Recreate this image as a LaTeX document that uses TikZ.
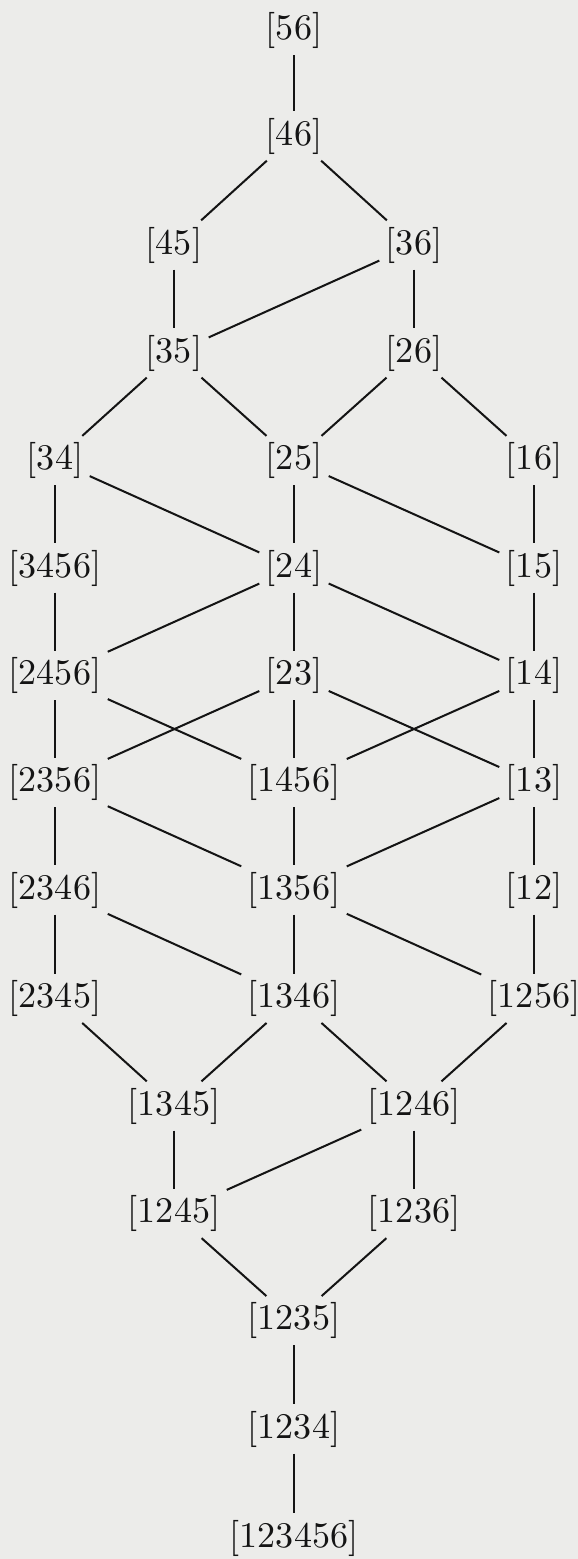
\documentclass[tikz,border=0pt]{standalone}
\definecolor{bgc}{RGB}{236,236,234}
\definecolor{ink}{RGB}{20,20,20}
\begin{document}
\begin{tikzpicture}[x=0.288pt,y=-0.288pt,
  lbl/.style={inner sep=1.9pt, outer sep=0pt, font=\fontsize{10.4}{12}\selectfont, text=ink},
  edge/.style={line width=0.58pt, draw=ink}]
\fill[bgc] (0,0) rectangle (578,1559);
\useasboundingbox (0,0) rectangle (578,1559);
% columns
\def\cA{55}\def\cB{174}\def\cC{294}\def\cD{414}\def\cE{534}
% rows
\node[lbl] (n56) at (\cC,30.5) {[56]};
\node[lbl] (n46) at (\cC,136) {[46]};
\node[lbl] (n45) at (\cB,245) {[45]};
\node[lbl] (n36) at (\cD,245) {[36]};
\node[lbl] (n35) at (\cB,353) {[35]};
\node[lbl] (n26) at (\cD,353) {[26]};
\node[lbl] (n34) at (\cA,460.5) {[34]};
\node[lbl] (n25) at (\cC,460.5) {[25]};
\node[lbl] (n16) at (\cE,460.5) {[16]};
\node[lbl] (n3456) at (\cA,568) {[3456]};
\node[lbl] (n24) at (\cC,568) {[24]};
\node[lbl] (n15) at (\cE,568) {[15]};
\node[lbl] (n2456) at (\cA,675.5) {[2456]};
\node[lbl] (n23) at (\cC,675.5) {[23]};
\node[lbl] (n14) at (\cE,675.5) {[14]};
\node[lbl] (n2356) at (\cA,782.5) {[2356]};
\node[lbl] (n1456) at (\cC,782.5) {[1456]};
\node[lbl] (n13) at (\cE,782.5) {[13]};
\node[lbl] (n2346) at (\cA,890) {[2346]};
\node[lbl] (n1356) at (\cC,890) {[1356]};
\node[lbl] (n12) at (\cE,890) {[12]};
\node[lbl] (n2345) at (\cA,998.3) {[2345]};
\node[lbl] (n1346) at (\cC,998.3) {[1346]};
\node[lbl] (n1256) at (\cE,998.3) {[1256]};
\node[lbl] (n1345) at (\cB,1106) {[1345]};
\node[lbl] (n1246) at (\cD,1106) {[1246]};
\node[lbl] (n1245) at (\cB,1213.5) {[1245]};
\node[lbl] (n1236) at (\cD,1213.5) {[1236]};
\node[lbl] (n1235) at (\cC,1320.7) {[1235]};
\node[lbl] (n1234) at (\cC,1429) {[1234]};
\node[lbl] (n123456) at (\cC,1538) {[123456]};
% edges
\foreach \a/\b in {n56/n46, n46/n45, n46/n36,
  n45/n35, n36/n35, n36/n26,
  n35/n34, n35/n25, n26/n25, n26/n16,
  n34/n3456, n34/n24, n25/n24, n25/n15, n16/n15,
  n3456/n2456, n24/n2456, n24/n23, n24/n14, n15/n14,
  n2456/n2356, n2456/n1456, n23/n2356, n23/n1456, n23/n13, n14/n1456, n14/n13,
  n2356/n2346, n2356/n1356, n1456/n1356, n13/n1356, n13/n12,
  n2346/n2345, n2346/n1346, n1356/n1346, n1356/n1256, n12/n1256,
  n2345/n1345, n1346/n1345, n1346/n1246, n1256/n1246,
  n1345/n1245, n1246/n1245, n1246/n1236,
  n1245/n1235, n1236/n1235,
  n1235/n1234, n1234/n123456}
  \draw[edge] (\a) -- (\b);
\end{tikzpicture}
\end{document}
